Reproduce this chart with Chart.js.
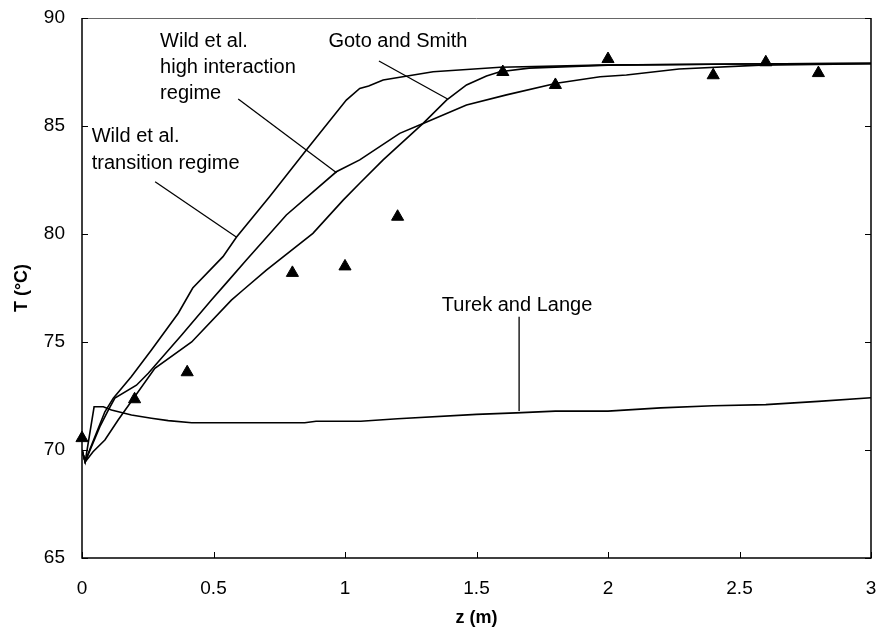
<!DOCTYPE html>
<html><head><meta charset="utf-8">
<script src="https://cdn.jsdelivr.net/npm/chart.js@4.4.0/dist/chart.umd.min.js"></script>
<style>html,body{margin:0;padding:0;background:#fff;}canvas{display:block;}</style>
</head><body>
<canvas id="c" width="881" height="641"></canvas>
<script>
// ---- data (z in m, T in °C) ----
const expZ = [0, 0.2, 0.4, 0.8, 1.0, 1.2, 1.6, 1.8, 2.0, 2.4, 2.6, 2.8];
const expT = [70.55, 72.35, 73.6, 78.2, 78.5, 80.8, 87.5, 86.9, 88.1, 87.35, 87.95, 87.45];

const turekZ = [0, 0.012, 0.046, 0.081, 0.112, 0.188, 0.264, 0.328, 0.417, 0.847, 0.89, 1.06, 1.2, 1.5, 1.65, 1.8, 2.0, 2.2, 2.4, 2.6, 2.8, 3.0];
const turekT = [70.0, 69.45, 72.0, 72.0, 71.85, 71.62, 71.47, 71.36, 71.26, 71.26, 71.33, 71.33, 71.45, 71.65, 71.72, 71.8, 71.8, 71.95, 72.05, 72.1, 72.25, 72.42];

const transZ = [0, 0.012, 0.024, 0.087, 0.119, 0.188, 0.264, 0.366, 0.421, 0.536, 0.587, 0.713, 0.853, 1.005, 1.056, 1.09, 1.145, 1.335, 1.59, 1.97, 2.5, 3.0];
const transT = [70.0, 69.45, 69.85, 71.77, 72.4, 73.4, 74.63, 76.33, 77.5, 78.95, 79.85, 81.73, 83.89, 86.2, 86.74, 86.85, 87.13, 87.51, 87.72, 87.82, 87.87, 87.9];

const highZ = [0, 0.012, 0.036, 0.068, 0.1, 0.125, 0.207, 0.252, 0.379, 0.492, 0.55, 0.625, 0.777, 0.967, 1.056, 1.208, 1.297, 1.462, 1.614, 1.804, 1.97, 2.07, 2.27, 2.58, 3.0];
const highT = [70.0, 69.45, 70.15, 71.08, 71.85, 72.4, 73.0, 73.55, 75.32, 76.94, 77.75, 78.8, 80.88, 82.88, 83.43, 84.66, 85.12, 85.97, 86.44, 86.98, 87.28, 87.36, 87.64, 87.82, 87.88];

const gotoZ = [0, 0.012, 0.042, 0.087, 0.138, 0.277, 0.417, 0.568, 0.607, 0.701, 0.878, 0.993, 1.056, 1.145, 1.297, 1.386, 1.462, 1.538, 1.589, 1.7, 2.0, 2.5, 3.0];
const gotoT = [70.0, 69.45, 69.92, 70.46, 71.4, 73.78, 75.0, 76.94, 77.35, 78.33, 80.03, 81.57, 82.35, 83.43, 85.12, 86.2, 86.9, 87.31, 87.51, 87.68, 87.82, 87.87, 87.9];

// axis ticks
const xTicks = [0, 0.5, 1, 1.5, 2, 2.5, 3];
const xTickLabels = ["0", "0.5", "1", "1.5", "2", "2.5", "3"];
const yTicks = [65, 70, 75, 80, 85, 90];
const yTickLabels = ["65", "70", "75", "80", "85", "90"];

// annotation labels (anchor in data coords, lines of text)
const labelTexts = [
  ["Goto and Smith"],
  ["Wild et al.", "high interaction", "regime"],
  ["Wild et al.", "transition regime"],
  ["Turek and Lange"]
];
const labelZ = [0.937, 0.297, 0.037, 1.368];
const labelT = [88.9, 88.9, 84.5, 76.71];
const labelLineStep = [1.2, 1.2, 1.23, 1.2];

// leader lines (pairs of points in data coords)
const leaderZ = [[1.129, 1.390], [0.594, 0.968], [0.278, 0.588], [1.662, 1.662]];
const leaderT = [[88.01, 86.25], [86.25, 82.84], [82.42, 79.85], [76.17, 71.8]];

const pts = (zs, ts) => zs.map((z, i) => ({x: z, y: ts[i]}));

Chart.defaults.font.family = '"Liberation Sans", Arial, sans-serif';
Chart.defaults.color = '#000';

const curveStyle = {showLine: true, borderColor: '#000', borderWidth: 1.6, pointRadius: 0, tension: 0, fill: false};
const datasets = [
  Object.assign({label: 'Turek and Lange', data: pts(turekZ, turekT)}, curveStyle),
  Object.assign({label: 'Wild et al. transition regime', data: pts(transZ, transT)}, curveStyle),
  Object.assign({label: 'Wild et al. high interaction regime', data: pts(highZ, highT)}, curveStyle),
  Object.assign({label: 'Goto and Smith', data: pts(gotoZ, gotoT)}, curveStyle),
];
leaderZ.forEach((zs, i) => {
  datasets.push({label: 'leader' + i, data: pts(zs, leaderT[i]), showLine: true, borderColor: '#000', borderWidth: 1.3, pointRadius: 0, tension: 0});
});
datasets.push({label: 'Experimental', data: pts(expZ, expT), showLine: false, clip: false, pointStyle: 'triangle', pointRadius: 7, backgroundColor: '#000', borderColor: '#000', borderWidth: 1});

const framePlugin = {
  id: 'frame',
  afterDatasetsDraw(chart) {
    const {ctx, chartArea: a, scales} = chart;
    ctx.save();
    // labels
    ctx.fillStyle = '#000';
    ctx.font = '20px "Liberation Sans", Arial, sans-serif';
    ctx.textAlign = 'left';
    ctx.textBaseline = 'middle';
    labelTexts.forEach((lines, i) => {
      const x = scales.x.getPixelForValue(labelZ[i]);
      lines.forEach((t, j) => {
        const y = scales.y.getPixelForValue(labelT[i] - j * labelLineStep[i]);
        ctx.fillText(t, x, y);
      });
    });
    // frame
    ctx.lineWidth = 1;
    ctx.strokeStyle = '#666';
    ctx.beginPath(); ctx.moveTo(a.left, Math.round(a.top) + 0.5); ctx.lineTo(a.right, Math.round(a.top) + 0.5); ctx.stroke();
    ctx.strokeStyle = '#000';
    ctx.lineWidth = 1.5;
    ctx.beginPath();
    ctx.moveTo(a.left, a.top); ctx.lineTo(a.left, a.bottom); ctx.lineTo(a.right, a.bottom); ctx.lineTo(a.right, a.top);
    ctx.stroke();
    // inward ticks
    ctx.lineWidth = 1;
    ctx.beginPath();
    yTicks.forEach(v => {
      const y = Math.round(scales.y.getPixelForValue(v)) + 0.5;
      ctx.moveTo(a.left, y); ctx.lineTo(a.left + 6, y);
      ctx.moveTo(a.right, y); ctx.lineTo(a.right - 6, y);
    });
    xTicks.forEach(v => {
      const x = Math.round(scales.x.getPixelForValue(v)) + 0.5;
      ctx.moveTo(x, a.bottom); ctx.lineTo(x, a.bottom - 6);
    });
    ctx.stroke();
    ctx.restore();
  }
};

new Chart(document.getElementById('c'), {
  type: 'scatter',
  data: {datasets},
  plugins: [framePlugin],
  options: {
    responsive: false,
    animation: false,
    devicePixelRatio: 1,
    layout: {padding: {left: 0, top: 18, right: 10, bottom: 0}},
    plugins: {legend: {display: false}, tooltip: {enabled: false}},
    scales: {
      x: {
        type: 'linear', min: 0, max: 3,
        afterFit(s) { s.height = 83; s.paddingLeft = 0; s.paddingRight = 0; },
        afterBuildTicks(s) { s.ticks = xTicks.map(v => ({value: v})); },
        grid: {display: false, drawTicks: false},
        border: {display: false},
        ticks: {padding: 19, font: {size: 19}, color: '#000', maxRotation: 0,
          callback: (v, i) => xTickLabels[i]},
        title: {display: true, text: 'z (m)', font: {size: 18, weight: 'bold'}, color: '#000', padding: {top: 0, bottom: 12}}
      },
      y: {
        type: 'linear', min: 65, max: 90,
        afterFit(s) { s.width = 82; s.paddingTop = 0; s.paddingBottom = 0; },
        afterBuildTicks(s) { s.ticks = yTicks.map(v => ({value: v})); },
        grid: {display: false, drawTicks: false},
        border: {display: false},
        ticks: {padding: 17, font: {size: 19}, color: '#000',
          callback: (v, i) => yTickLabels[i]},
        title: {display: true, text: 'T (°C)', font: {size: 18, weight: 'bold'}, color: '#000', padding: {top: 11, bottom: 0}}
      }
    }
  }
});
</script>
</body></html>
